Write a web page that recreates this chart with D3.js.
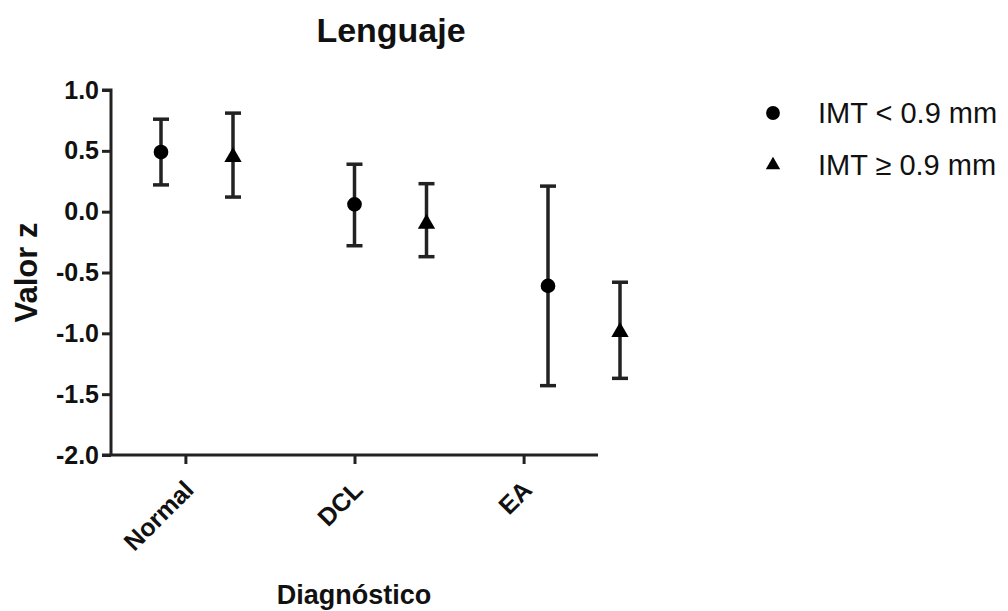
<!DOCTYPE html>
<html>
<head>
<meta charset="utf-8">
<script src="https://cdn.jsdelivr.net/npm/d3@7"></script>
<style>
  body { margin: 0; background: #fff; }
  text { font-family: "Liberation Sans", Arial, sans-serif; fill: #111; }
</style>
</head>
<body>
<div id="chart"></div>
<script>
// Chart data
const categories = ['Normal', 'DCL', 'EA'];
const seriesNames = ['IMT < 0.9 mm', 'IMT \u2265 0.9 mm'];
const meanLow = [0.49, 0.06, -0.61];
const upperLow = [0.76, 0.39, 0.21];
const lowerLow = [0.22, -0.28, -1.43];
const meanHigh = [0.45, -0.10, -0.99];
const upperHigh = [0.81, 0.23, -0.58];
const lowerHigh = [0.12, -0.37, -1.37];
const yTicks = [1.0, 0.5, 0.0, -0.5, -1.0, -1.5, -2.0];

const width = 1008;
const height = 611;
const margin = { top: 90, left: 111, right: 410, bottom: 156 };

const svg = d3
  .select('#chart')
  .append('svg')
  .attr('width', width)
  .attr('height', height);

// Scales
const y = d3
  .scaleLinear()
  .domain([-2, 1])
  .range([height - margin.bottom, margin.top]);

const x = d3
  .scalePoint()
  .domain(categories)
  .range([margin.left, width - margin.right])
  .padding(0.44);

// marks sit on their own spacing (as in the original figure)
const xMark = d3
  .scalePoint()
  .domain(categories)
  .range([161, 548]);
const seriesOffset = d3.scaleOrdinal().domain([0, 1]).range([0, 72]);

// Axes
const yAxis = d3
  .axisLeft(y)
  .tickValues(yTicks)
  .tickSize(9)
  .tickPadding(3)
  .tickFormat(d3.format('.1f'));

const gy = svg
  .append('g')
  .attr('transform', `translate(${margin.left},0)`)
  .call(yAxis);

gy.select('.domain')
  .attr('d', `M-9,${y(1)}H0V${y(-2)}`)
  .attr('stroke', '#222')
  .attr('stroke-width', 3);
gy.selectAll('.tick line').attr('stroke', '#222').attr('stroke-width', 3);
gy.selectAll('.tick text')
  .style('font-size', '25px')
  .style('font-weight', 'bold')
  .attr('fill', '#111')
  .text((d) => (d < 0 ? '-' : '') + d3.format('.1f')(Math.abs(d)));

const xAxis = d3.axisBottom(x).tickSize(9).tickPadding(4);

const gx = svg
  .append('g')
  .attr('transform', `translate(0,${y(-2)})`)
  .call(xAxis);

gx.select('.domain')
  .attr('d', `M${margin.left - 9},0H${width - margin.right}`)
  .attr('stroke', '#222')
  .attr('stroke-width', 3);
gx.selectAll('.tick line').attr('stroke', '#222').attr('stroke-width', 3);
gx.selectAll('.tick text')
  .style('font-size', '25px')
  .style('font-weight', 'bold')
  .attr('fill', '#111')
  .attr('text-anchor', 'end')
  .attr('dy', '0.35em')
  .attr('transform', 'translate(-6,21) rotate(-45)');

// Error bars + markers
const series = [
  { mean: meanLow, upper: upperLow, lower: lowerLow, shape: d3.symbolCircle },
  { mean: meanHigh, upper: upperHigh, lower: lowerHigh, shape: d3.symbolTriangle },
];

series.forEach(function (s, si) {
  const g = svg.append('g');
  const px = (i) => xMark(categories[i]) + seriesOffset(si);

  categories.forEach(function (c, i) {
    g.append('line')
      .attr('x1', px(i))
      .attr('x2', px(i))
      .attr('y1', y(s.upper[i]))
      .attr('y2', y(s.lower[i]))
      .attr('stroke', '#222')
      .attr('stroke-width', 3.5);
    [s.upper[i], s.lower[i]].forEach(function (v) {
      g.append('line')
        .attr('x1', px(i) - 8)
        .attr('x2', px(i) + 8)
        .attr('y1', y(v))
        .attr('y2', y(v))
        .attr('stroke', '#222')
        .attr('stroke-width', 3.5);
    });
    g.append('path')
      .attr('d', d3.symbol().type(s.shape).size(si === 0 ? 170 : 130)())
      .attr('transform', `translate(${px(i)},${y(s.mean[i])})`)
      .attr('fill', '#000');
  });
});

// Title
svg
  .append('text')
  .attr('x', 391)
  .attr('y', 42)
  .attr('text-anchor', 'middle')
  .style('font-size', '34px')
  .style('font-weight', 'bold')
  .text('Lenguaje');

// Axis titles
svg
  .append('text')
  .attr('transform', `translate(37,${(y(1) + y(-2)) / 2}) rotate(-90)`)
  .attr('text-anchor', 'middle')
  .style('font-size', '31px')
  .style('font-weight', 'bold')
  .text('Valor z');

svg
  .append('text')
  .attr('x', 354)
  .attr('y', 604)
  .attr('text-anchor', 'middle')
  .style('font-size', '27px')
  .style('font-weight', 'bold')
  .text('Diagnóstico');

// Legend
const legend = svg
  .selectAll('.legend')
  .data(seriesNames)
  .enter()
  .append('g')
  .attr('class', 'legend')
  .attr('transform', (d, i) => `translate(773,${113 + i * 52})`);

legend
  .append('path')
  .attr('d', (d, i) =>
    d3.symbol().type(i === 0 ? d3.symbolCircle : d3.symbolTriangle).size(i === 0 ? 150 : 90)(),
  )
  .attr('fill', '#000');

legend
  .append('text')
  .attr('x', 45)
  .attr('dy', '0.35em')
  .style('font-size', '29px')
  .text((d) => d);
</script>
</body>
</html>
